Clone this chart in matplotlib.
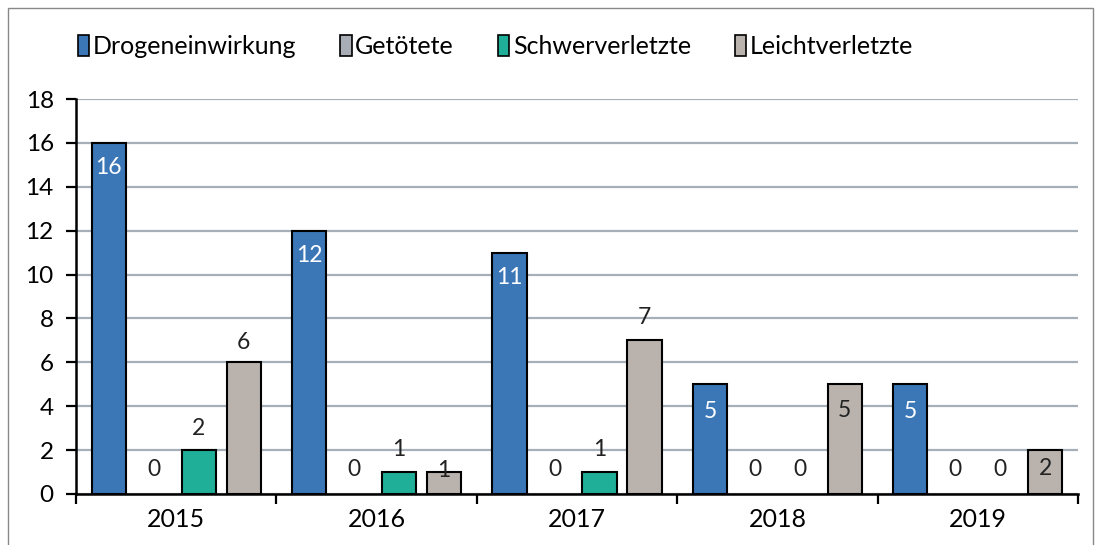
import matplotlib
matplotlib.use("Agg")
import matplotlib.pyplot as plt
import numpy as np
from matplotlib.patches import Rectangle, Patch

years = ["2015", "2016", "2017", "2018", "2019"]
series_names = ["Drogeneinwirkung", "Getötete", "Schwerverletzte", "Leichtverletzte"]
drogen = [16, 12, 11, 5, 5]
getoetete = [0, 0, 0, 0, 0]
schwer = [2, 1, 1, 0, 0]
leicht = [6, 1, 7, 5, 2]
yticks = [0, 2, 4, 6, 8, 10, 12, 14, 16, 18]

colors = ["#3B77B7", "#A9ADB5", "#1FAF99", "#BAB2AC"]
label_colors = ["white", "#222222", "#222222", "#222222"]
# label offsets in pixels from bar top, per series/year
label_dy = [
    [-25, -25, -25, -27, -27],
    [24, 24, 24, 24, 24],
    [22, 23, 23, 24, 24],
    [20, 2, 23, -26, -18],
]

plt.rcParams['font.family'] = ['Lato', 'DejaVu Sans']
fig = plt.figure(figsize=(11, 5.45), dpi=100)
ax = fig.add_axes([0.0691, 0.0936, 0.9109, 0.7247])

data = [drogen, getoetete, schwer, leicht]
x = np.arange(len(years))
step = 0.2245
width = 0.17
for i, vals in enumerate(data):
    pos = x + (i - 1.5) * step
    lws = [1.5 if v > 0 else 0 for v in vals]
    ax.bar(pos, vals, width=width, color=colors[i], edgecolor="black", linewidth=lws, zorder=3)
    for j, v in enumerate(vals):
        ax.annotate(str(v), (pos[j], v), xytext=(0, label_dy[i][j]), textcoords="offset pixels",
                    ha="center", va="center", fontsize=16.5, color=label_colors[i], zorder=5)

ax.set_xlim(-0.5, len(years) - 0.5)
ax.set_ylim(0, 18)
ax.set_yticks(yticks)
ax.set_yticklabels([str(t) for t in yticks], fontsize=17.5)
ax.yaxis.grid(True, color="#A6AEB8", linewidth=1.6, zorder=0)
ax.set_axisbelow(True)
ax.set_xticks(np.arange(len(years) + 1) - 0.5)
ax.set_xticklabels([])
ax.set_xticks(x, minor=True)
ax.set_xticklabels(years, minor=True, fontsize=18)
ax.tick_params(axis="x", which="major", length=7, width=1.6, direction="out")
ax.tick_params(axis="x", which="minor", length=0, pad=10)
ax.tick_params(axis="y", length=7, width=1.6, direction="out", pad=9)
for s in ["top", "right"]:
    ax.spines[s].set_visible(False)
for s in ["left", "bottom"]:
    ax.spines[s].set_linewidth(1.8)
    ax.spines[s].set_color("black")

handles = [Patch(facecolor=c, edgecolor="black", linewidth=1.2) for c in colors]
fig.legend(handles, series_names, loc="center left", bbox_to_anchor=(0.071, 0.915), ncol=4,
           frameon=False, fontsize=18, handlelength=0.45, handleheight=0.9, handletextpad=0.15,
           columnspacing=1.75, borderaxespad=0, borderpad=0)

fig.patches.append(Rectangle((8 / 1100, -0.1), (1093 - 8) / 1100, 1.1 - 8 / 545,
                             transform=fig.transFigure, fill=False, edgecolor="#888888",
                             linewidth=1.0))

fig.savefig("out.png", dpi=100)
